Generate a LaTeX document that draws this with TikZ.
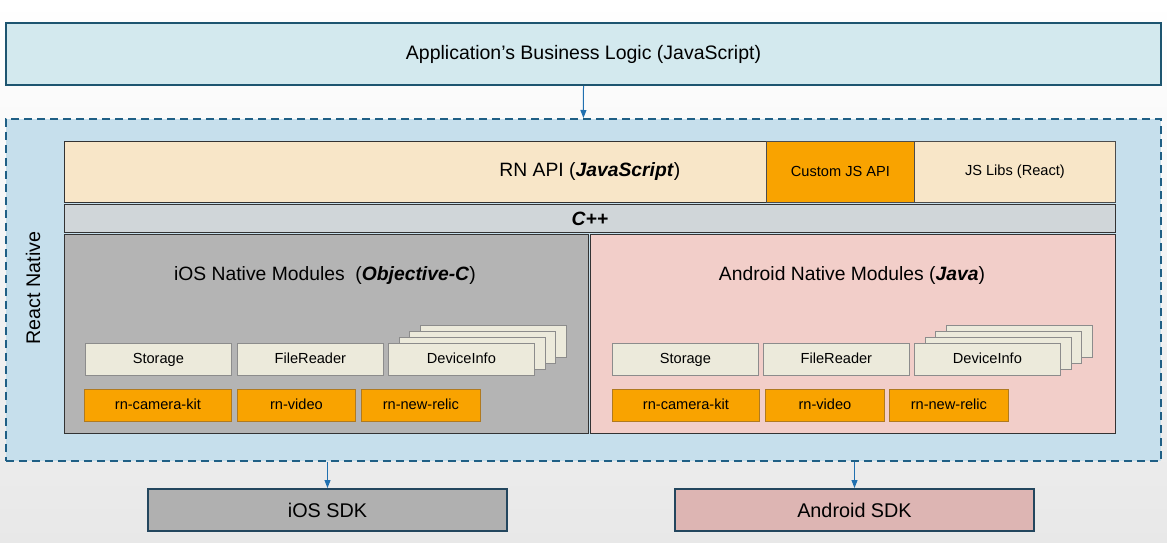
\documentclass[tikz,border=0pt]{standalone}
\usepackage{fontspec}
\setmainfont{Liberation Sans}
\usetikzlibrary{arrows.meta}
\definecolor{appfill}{HTML}{D3E9EE}
\definecolor{appedge}{HTML}{1D5570}
\definecolor{rnfill}{HTML}{C6DFEC}
\definecolor{rnedge}{HTML}{1F5F85}
\definecolor{apifill}{HTML}{F8E6C8}
\definecolor{orangefill}{HTML}{F9A300}
\definecolor{orangeedge}{HTML}{B07A20}
\definecolor{cppfill}{HTML}{D0D6D9}
\definecolor{iosfill}{HTML}{B4B4B4}
\definecolor{droidfill}{HTML}{F2CEC9}
\definecolor{modfill}{HTML}{ECEADB}
\definecolor{iossdk}{HTML}{B0B0B0}
\definecolor{droidsdk}{HTML}{DDB5B3}
\definecolor{sdkedge}{HTML}{23465E}
\definecolor{arrowblue}{HTML}{2070B0}
\tikzset{   frame/.style = {rectangle, anchor=north west, inner sep=0pt},
            appbox/.style = {frame, fill=appfill, draw=appedge, line width=2pt, font=\fontsize{19.5}{23}\selectfont},
            rnbox/.style = {frame, fill=rnfill, draw=rnedge, line width=1.8pt, dash pattern=on 8pt off 5pt},
            layer/.style = {frame, draw=black!80, line width=0.8pt, font=\fontsize{19.3}{23}\selectfont},
            small/.style = {frame, draw=black!70, line width=0.8pt, font=\fontsize{14.6}{17}\selectfont},
            module/.style = {frame, fill=modfill, draw=black!45, line width=0.8pt, minimum width=146pt, minimum height=32pt, text height=10.5pt, text depth=3pt, font=\fontsize{14.6}{17}\selectfont},
            plugin/.style = {frame, fill=orangefill, draw=orangeedge, line width=0.8pt, minimum height=32pt, text height=10.5pt, text depth=3pt, font=\fontsize{14.6}{17}\selectfont},
            title/.style = {font=\fontsize{19.3}{23}\selectfont, inner sep=0pt},
            sdk/.style = {frame, draw=sdkedge, line width=2pt, minimum width=359pt, minimum height=42pt, font=\fontsize{19.8}{23}\selectfont},
            flow/.style = {-{Triangle[length=8pt,width=6pt]}, draw=arrowblue, fill=arrowblue, line width=1pt}}

\begin{document}
\begin{tikzpicture}[x=1pt,y=-1pt]
    \useasboundingbox(0,0)rectangle(1167,543);
    \shade[top color=white, bottom color=black!9](0,0)rectangle(1167,543);

    \node[appbox, minimum width=1155pt, minimum height=62pt](app)at(5,22){Application's Business Logic (JavaScript)};
    \node[rnbox, minimum width=1155pt, minimum height=342pt](rn)at(5,118){};
    \node[title, rotate=90, font=\fontsize{19.7}{23}\selectfont](rnlabel)at(33,288){React Native};

    % JS layer
    \node[layer, fill=apifill, minimum width=1051pt, minimum height=61pt](api)at(64,141){RN API (\textbf{\textit{JavaScript}})};
    \node[small, fill=orangefill, minimum width=148pt, minimum height=61pt](custom)at(766,141){Custom JS API};
    \node[small, fill=apifill, minimum width=201pt, minimum height=61pt](libs)at(914,141){JS Libs (React)};
    \node[layer, fill=cppfill, minimum width=1051pt, minimum height=28pt](cpp)at(64,204){\textbf{\textit{C++}}};

    % native modules
    \node[layer, fill=iosfill, minimum width=524pt, minimum height=199pt](iosmod)at(64,234){};
    \node[layer, fill=droidfill, minimum width=525pt, minimum height=199pt](droidmod)at(590,234){};
    \node[title](iostitle)at(325,276){iOS Native Modules\ \ (\textbf{\textit{Objective-C}})};
    \node[title](droidtitle)at(852,276){Android Native Modules (\textbf{\textit{Java}})};

    \node[module](iosstore)at(85,343){Storage};
    \node[module](iosfile)at(237,343){FileReader};
    \foreach \i in {3,2,1}
        \node[module](iosdev\i)at(388+10.5*\i,343-6*\i){};
    \node[module](iosdev)at(388,343){DeviceInfo};
    \node[plugin, minimum width=147pt](ioscam)at(84,389){rn-camera-kit};
    \node[plugin, minimum width=118pt](iosvid)at(237,389){rn-video};
    \node[plugin, minimum width=119pt](iosrelic)at(361,389){rn-new-relic};

    \node[module](droidstore)at(612,343){Storage};
    \node[module](droidfile)at(763,343){FileReader};
    \foreach \i in {3,2,1}
        \node[module](droiddev\i)at(914+10.5*\i,343-6*\i){};
    \node[module](droiddev)at(914,343){DeviceInfo};
    \node[plugin, minimum width=147pt](droidcam)at(612,389){rn-camera-kit};
    \node[plugin, minimum width=119pt](droidvid)at(765,389){rn-video};
    \node[plugin, minimum width=119pt](droidrelic)at(889,389){rn-new-relic};

    % SDKs
    \node[sdk, fill=iossdk](iossdk)at(147,488){iOS SDK};
    \node[sdk, fill=droidsdk](droidsdk)at(674,488){Android SDK};

    \draw[flow](app.south)--(rn.north);
    \draw[flow](iossdk.north|-rn.south)--(iossdk.north);
    \draw[flow](droidsdk.north|-rn.south)--(droidsdk.north);
\end{tikzpicture}
\end{document}
